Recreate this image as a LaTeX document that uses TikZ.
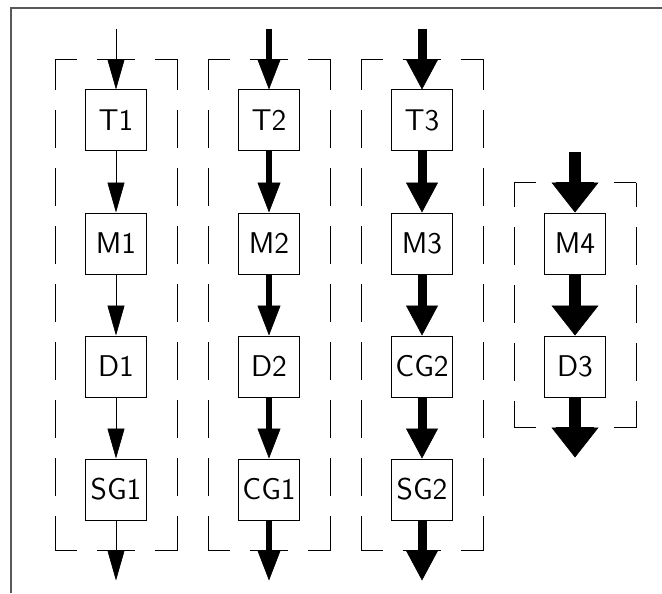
\documentclass[tikz,border=0pt]{standalone}
\usepackage{fontspec}
\usepackage{tikz}
\usetikzlibrary{positioning}
\usetikzlibrary{fit}
\usetikzlibrary{arrows.meta}

\tikzset{
  blk/.style={draw,line width=0.5pt,minimum size=30.5pt,inner sep=0pt,
    font=\sffamily\fontsize{15}{18}\selectfont},
  grp/.style={inner sep=15pt,outer sep=0pt},
  dashline/.style={line width=0.5pt,dash pattern=on 19pt off 10pt},
  hdash/.style={dashline,dash phase=8.25pt},
  vdash/.style={dashline,dash phase=3.75pt},
  vdashb/.style={dashline,dash phase=6.75pt},
  flowa/.style={line width=0.5pt,-{Triangle[length=15pt,width=8.5pt,line width=0.3pt]}},
  flowb/.style={line width=3pt,-{Triangle[length=15pt,width=11.5pt,line width=0.3pt]}},
  flowc/.style={line width=4.5pt,-{Triangle[length=15pt,width=16pt,line width=0.3pt]}},
  flowd/.style={line width=6pt,-{Triangle[length=15pt,width=23.5pt,line width=0.3pt]}}
}

\begin{document}
\begin{tikzpicture}[x=0.5pt,y=-0.5pt,node distance=30.5pt and 45.5pt]
  \useasboundingbox (0,0) rectangle (662,593);
  \draw[black!65,line width=0.6pt] (11,593) -- (11,8) -- (662,8);

  % blocks
  \node[blk] (t1) at (116,120.5) {T1};
  \node[blk,below=of t1] (m1) {M1};
  \node[blk,below=of m1] (d1) {D1};
  \node[blk,below=of d1] (sg1) {SG1};
  \node[blk,right=of t1] (t2) {T2};
  \node[blk,below=of t2] (m2) {M2};
  \node[blk,below=of m2] (d2) {D2};
  \node[blk,below=of d2] (cg1) {CG1};
  \node[blk,right=of t2] (t3) {T3};
  \node[blk,below=of t3] (m3) {M3};
  \node[blk,below=of m3] (cg2) {CG2};
  \node[blk,below=of cg2] (sg2) {SG2};
  \node[blk,right=of m3] (m4) {M4};
  \node[blk,below=of m4] (d3) {D3};

  % groups
  \node[grp,fit=(t1)(sg1)] (g1) {};
  \node[grp,fit=(t2)(cg1)] (g2) {};
  \node[grp,fit=(t3)(sg2)] (g3) {};
  \node[grp,fit=(m4)(d3)] (g4) {};
  \foreach \g in {1,2,3} {
    \draw[hdash] (g\g.north west) -- (g\g.north east);
    \draw[hdash] (g\g.south west) -- (g\g.south east);
    \draw[vdash] (g\g.north west) -- (g\g.south west);
    \draw[vdash] (g\g.north east) -- (g\g.south east);
  }
  \draw[hdash] (g4.north west) -- (g4.north east);
  \draw[hdash] (g4.south west) -- (g4.south east);
  \draw[vdashb] (g4.north west) -- (g4.south west);
  \draw[vdashb] (g4.north east) -- (g4.south east);

  % free ends
  \coordinate[above=30pt of t1.north] (in1);
  \coordinate[above=30pt of t2.north] (in2);
  \coordinate[above=30pt of t3.north] (in3);
  \coordinate[above=30pt of m4.north] (in4);
  \coordinate[below=30pt of sg1.south] (out1);
  \coordinate[below=30pt of cg1.south] (out2);
  \coordinate[below=30pt of sg2.south] (out3);
  \coordinate[below=30pt of d3.south] (out4);

  \path[flowa]
    (in1) edge (t1)
    (t1)  edge (m1)
    (m1)  edge (d1)
    (d1)  edge (sg1)
    (sg1) edge (out1);
  \path[flowb]
    (in2) edge (t2)
    (t2)  edge (m2)
    (m2)  edge (d2)
    (d2)  edge (cg1)
    (cg1) edge (out2);
  \path[flowc]
    (in3) edge (t3)
    (t3)  edge (m3)
    (m3)  edge (cg2)
    (cg2) edge (sg2)
    (sg2) edge (out3);
  \path[flowd]
    (in4) edge (m4)
    (m4)  edge (d3)
    (d3)  edge (out4);
\end{tikzpicture}
\end{document}
